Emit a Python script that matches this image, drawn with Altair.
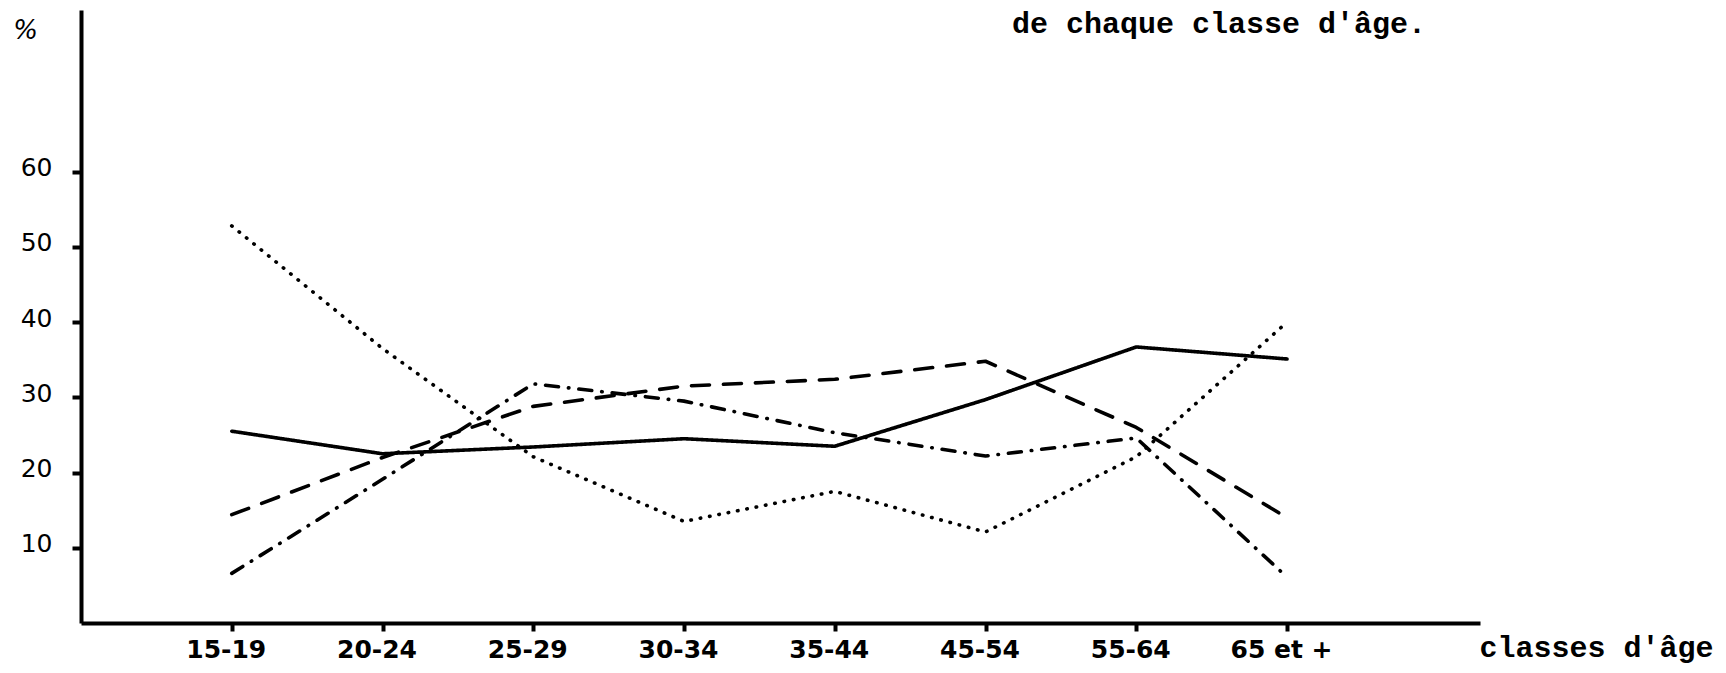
import json
import altair as alt
import pandas as pd

# ---- data ----
categories = ["15-19", "20-24", "25-29", "30-34", "35-44", "45-54", "55-64", "65 et +"]
series_names = ["série 1", "série 2", "série 3", "série 4"]
serie_1 = [25.5, 22.5, 23.4, 24.5, 23.5, 29.7, 36.7, 35.1]   # solid
serie_2 = [14.4, 22.0, 28.8, 31.5, 32.4, 34.8, 26.0, 14.0]   # long dashes
serie_3 = [6.6, 19.1, 31.8, 29.5, 25.3, 22.2, 24.6, 6.1]     # dash-dot
serie_4 = [52.8, 36.5, 22.1, 13.5, 17.5, 12.1, 22.1, 40.0]   # dotted
y_ticks = [10, 20, 30, 40, 50, 60]
caption = "de chaque classe d'âge."
x_title = "classes d'âge"
y_title = "%"

rows = []
for name, vals in zip(series_names, [serie_1, serie_2, serie_3, serie_4]):
    for i, (c, v) in enumerate(zip(categories, vals)):
        rows.append({"serie": name, "classe": c, "idx": i + 1, "pct": v})
df = pd.DataFrame(rows)

W, H = 1399, 613
label_expr = json.dumps(categories) + "[datum.value - 1]"

lines = alt.Chart(df).mark_line(strokeWidth=3.6, strokeCap="round", strokeJoin="round", color="black").encode(
    x=alt.X("idx:Q",
            scale=alt.Scale(domain=[0, 9.28], nice=False, zero=False),
            axis=alt.Axis(values=list(range(1, len(categories) + 1)), labelExpr=label_expr,
                          grid=False, domainColor="black", domainWidth=4, tickColor="black",
                          tickWidth=4, tickSize=8, labelFont="DejaVu Sans", labelFontSize=25,
                          labelFontWeight="bold", labelColor="black", labelPadding=6,
                          labelAngle=0, labelBaseline="top", labelOffset=-6,
                          title=x_title, titleFont="Liberation Mono", titleFontSize=30,
                          titleFontWeight="bold", titleColor="black", titleX=1398, titleY=33,
                          titleAlign="left", titleBaseline="alphabetic")),
    y=alt.Y("pct:Q",
            scale=alt.Scale(domain=[0, 81.5], nice=False, zero=True),
            axis=alt.Axis(values=y_ticks, grid=False, domainColor="black", domainWidth=4,
                          tickColor="black", tickWidth=4, tickSize=9,
                          labelFont="DejaVu Sans", labelFontSize=25, labelColor="black",
                          labelPadding=20, labelOffset=-4,
                          title=y_title, titleAngle=0, titleX=-56, titleY=20,
                          titleFont="DejaVu Sans", titleFontSize=26, titleFontStyle="italic",
                          titleFontWeight="normal", titleColor="black",
                          titleAlign="center", titleBaseline="middle")),
    strokeDash=alt.StrokeDash("serie:N",
                              scale=alt.Scale(domain=series_names,
                                              range=[[1, 0], [18, 14], [13, 10, 0.5, 10], [0.5, 9]]),
                              legend=None),
    detail="serie:N",
    order="idx:Q",
)

cap = alt.Chart(pd.DataFrame({"t": [caption]})).mark_text(
    font="Liberation Mono", fontSize=30, fontWeight="bold", color="black",
    align="left", baseline="alphabetic"
).encode(text="t:N", x=alt.value(931), y=alt.value(23))

chart = alt.layer(lines, cap).properties(
    width=W, height=H,
    autosize=alt.AutoSizeParams(type="none"),
    padding={"left": 73, "top": 2, "right": 238, "bottom": 50},
    background="white",
).configure_view(stroke=None)

chart.save("out.html", embed_options={"renderer": "svg", "actions": False})
